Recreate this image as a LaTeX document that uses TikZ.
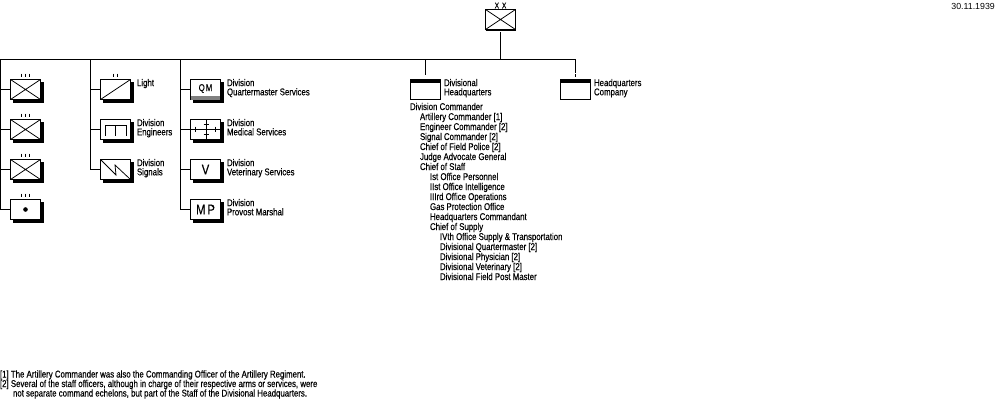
\documentclass[tikz,border=0pt]{standalone}
\usepackage{fontspec}
\setmainfont[FakeStretch=0.8,FakeBold=0.3]{Liberation Sans}
\newfontfamily\datefont{Liberation Sans}
\newcommand{\chartfont}{\fontsize{9.8pt}{9.2pt}\selectfont}
\tikzset{
  x=1pt,y=-1pt,
  ln/.style={line width=1pt,black},
  thin cross/.style={line width=.75pt,black},
  unitbox/.style={draw=black,line width=1pt,fill=white,minimum width=30pt,minimum height=20pt,inner sep=0pt,outer sep=0pt,anchor=north west},
  lbl/.style={anchor=north west,inner sep=0pt,outer sep=0pt,align=left,font=\chartfont},
  txt/.style={anchor=base west,inner sep=0pt,outer sep=0pt,font=\chartfont},
}
% unit box with drop shadow: name, left pixel, top pixel
\newcommand{\unitnode}[3]{%
  \fill[black] (#2+3,#3+3) rectangle (#2+34,#3+24);
  \node[unitbox] (#1) at (#2+.5,#3+.5) {};
}
\newcommand{\xcross}[1]{%
  \draw[thin cross] (#1.north west) -- (#1.south east) (#1.south west) -- (#1.north east);
}
\begin{document}
\begin{tikzpicture}
\useasboundingbox (0,0) rectangle (1000,400);
\fill[white] (0,0) rectangle (1000,400);
\node[anchor=base east,inner sep=0pt,font=\datefont\fontsize{8.8pt}{9pt}\selectfont] (date) at (995,9.5) {30.11.1939};

% division symbol at the top
\node[unitbox] (div) at (485.5,9.5) {};
\xcross{div}
\draw[ln] (div.south west) ++(0,.5) -- ++(30,0);
\node[anchor=center,inner sep=0pt,font=\fontsize{8pt}{8pt}\selectfont] (xx) at (500.5,5.5) {X\kern3pt X};

% main horizontal bus and its drops
\coordinate (busL) at (0.5,59.5);
\coordinate (busR) at (575.5,59.5);
\coordinate (busT) at (500.5,59.5);
\coordinate (divS) at (500.5,32);
\draw[ln] (0,59.5) -- (busR);
\draw[ln] (divS) -- (busT);

% left column: infantry regiments and artillery
\unitnode{inf1}{10}{79}
\unitnode{inf2}{10}{119}
\unitnode{inf3}{10}{159}
\unitnode{art}{10}{199}
\xcross{inf1}\xcross{inf2}\xcross{inf3}
\fill[black] (art.center) circle (2.3pt);
\draw[ln] (busL) |- (art.west);
\draw[ln] (0.5,89.5) -- (inf1.west);
\draw[ln] (0.5,129.5) -- (inf2.west);
\draw[ln] (0.5,169.5) -- (inf3.west);
\foreach \yy in {73.5,113.5,153.5,193.5}
  \foreach \xx in {21.5,25.5,29.5}
    \draw[ln] (\xx,\yy) -- (\xx,\yy+3.5);

% second column
\unitnode{lt}{100}{79}
\unitnode{eng}{100}{119}
\unitnode{sig}{100}{159}
\coordinate (c2) at (90.5,59.5);
\draw[ln] (c2) |- (sig.west);
\draw[ln] (90.5,89.5) -- (lt.west);
\draw[ln] (90.5,129.5) -- (eng.west);
\draw[thin cross] (lt.south west) -- (lt.north east);
\draw[ln] (113.5,73.5) -- (113.5,77) (117.5,73.5) -- (117.5,77);
\draw[ln] (105.5,135.5) -- (105.5,125.5) -- (126.5,125.5) -- (126.5,135.5) (115.5,125.5) -- (115.5,135.5);
\draw[thin cross] (sig.north west) -- (116,175) -- (115,165) -- (sig.south east);
\node[lbl] (ltL) at (137,79) {Light};
\node[lbl] (engL) at (137,119) {Division\\Engineers};
\node[lbl] (sigL) at (137,159) {Division\\Signals};

% third column
\unitnode{qm}{190}{79}
\unitnode{med}{190}{119}
\unitnode{vet}{190}{159}
\unitnode{mp}{190}{199}
\fill[black!50] (190.5,96) rectangle (221,99.5);
\draw[ln] (qm.south west) ++(0,-.5) -- (qm.north west) -- (qm.north east) -- (qm.south east);
\node[inner sep=0pt,font=\chartfont] at (205.5,88.5) {Q\kern1pt M};
\node[inner sep=0pt,font=\fontsize{14pt}{14pt}\selectfont] at (vet.center) {V};
\node[inner sep=0pt,font=\fontsize{14pt}{14pt}\selectfont] at (mp.center) {M\kern2pt P};
\coordinate (c3) at (180.5,59.5);
\draw[ln] (c3) |- (mp.west);
\draw[ln] (180.5,89.5) -- (qm.west);
\draw[ln] (180.5,169.5) -- (vet.west);
\draw[ln] (180.5,129.5) -- (med.east);
\draw[ln] (med.north) ++(.5,0) -- ++(0,20);
\draw[ln] (195.5,126.5) -- (195.5,131.5) (215.5,126.5) -- (215.5,131.5) (203.5,124.5) -- (208.5,124.5) (203.5,134.5) -- (208.5,134.5);
\node[lbl] (qmL) at (227,79) {Division\\Quartermaster Services};
\node[lbl] (medL) at (227,119) {Division\\Medical Services};
\node[lbl] (vetL) at (227,159) {Division\\Veterinary Services};
\node[lbl] (mpL) at (227,199) {Division\\Provost Marshal};

% headquarters
\node[unitbox] (hq) at (410.5,79.5) {};
\node[unitbox] (hqc) at (560.5,79.5) {};
\fill[black] (410,79) rectangle (441,83);
\fill[black] (560,79) rectangle (591,83);
\coordinate (hqS) at (425.5,75);
\coordinate (busH) at (425.5,59.5);
\draw[ln] (busH) -- (hqS);
\coordinate (hqcA) at (575.5,73);
\coordinate (hqcB) at (575.5,74);
\coordinate (hqcC) at (575.5,77);
\draw[ln] (busR) -- (hqcA) (hqcB) -- (hqcC);
\node[lbl] (hqL) at (444,79) {Divisional\\Headquarters};
\node[lbl] (hqcL) at (594,79) {Headquarters\\Company};
\node[txt] (s0) at (410,110) {Division Commander};
\foreach \n/\xx/\yy/\t in {
  s1/420/120/{Artillery Commander [1]},
  s2/420/130/{Engineer Commander [2]},
  s3/420/140/{Signal Commander [2]},
  s4/420/150/{Chief of Field Police [2]},
  s5/420/160/{Judge Advocate General},
  s6/420/170/{Chief of Staff},
  s7/430/180/{Ist Office Personnel},
  s8/430/190/{IIst Office Intelligence},
  s9/430/200/{IIIrd Office Operations},
  s10/430/210/{Gas Protection Office},
  s11/430/220/{Headquarters Commandant},
  s12/430/230/{Chief of Supply},
  s13/440/240/{IVth Office Supply \& Transportation},
  s14/440/250/{Divisional Quartermaster [2]},
  s15/440/260/{Divisional Physician [2]},
  s16/440/270/{Divisional Veterinary [2]},
  s17/440/280/{Divisional Field Post Master}}
  \node[txt] (\n) at (\xx,\yy) {\t};

% footnotes
\node[txt] (f1) at (0,377.5) {[1] The Artillery Commander was also the Commanding Officer of the Artillery Regiment.};
\node[txt] (f2) at (0,387) {[2] Several of the staff officers, although in charge of their respective arms or services, were};
\node[txt] (f3) at (13,396.5) {not separate command echelons, but part of the Staff of the Divisional Headquarters.};
\end{tikzpicture}
\end{document}
